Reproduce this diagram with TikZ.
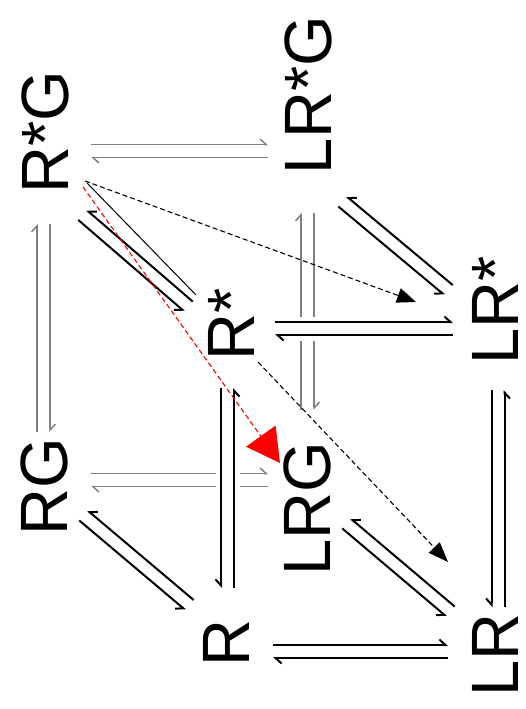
\documentclass[tikz,border=0pt]{standalone}
\usepackage{fontspec}
\setmainfont{Liberation Sans}
\usetikzlibrary{arrows.meta,calc}

% half distance between the two lines of an equilibrium pair
\newcommand{\hgap}{6.5pt}
% [turn] {style} {node a} {shift a} {node b} {shift b}
\newcommand{\eqpair}[6][90]{%
  \pgfmathsetmacro\turn{#1}%
  \pgfmathsetmacro\nturn{-(#1)}%
  \coordinate (p) at ([shift={#4}]#3.center);
  \coordinate (q) at ([shift={#6}]#5.center);
  \draw[#2] ($(p)!\hgap!\turn:(q)$) -- ($(q)!\hgap!\nturn:(p)$);
  \draw[#2] ($(q)!\hgap!\turn:(p)$) -- ($(p)!\hgap!\nturn:(q)$);
}

\begin{document}
\begin{tikzpicture}[x=1pt, y=-1pt,
    lbl/.style={rotate=90, yscale=1.03, inner sep=0pt, font=\fontsize{65}{65}\selectfont},
    back/.style={draw=gray, line width=1.5pt},
    front/.style={draw=black, line width=2pt},
    barb/.style={-{Straight Barb[harpoon, length=6pt, width=11pt]}},
    barbx/.style={-{Straight Barb[harpoon, swap, length=6pt, width=11pt]}},
    gapband/.style={draw=white, line width=24pt},
    dasharrow/.style={black, line width=1.1pt, dash pattern=on 5pt off 3pt},
  ]
  \useasboundingbox (0,0) rectangle (526,709);

  % states
  \node[lbl] (RSG)  at (45,132.5)   {R*G};
  \node[lbl] (LRSG) at (308,95)     {LR*G};
  \node[lbl] (LRS)  at (495.5,310)  {LR*};
  \node[lbl] (RS)   at (231,324)    {R*};
  \node[lbl] (RG)   at (44,486.5)   {RG};
  \node[lbl] (LRG)  at (307.5,508.5) {LRG};
  \node[lbl] (R)    at (226,643)    {R};
  \node[lbl] (LR)   at (495.5,655)  {LR};

  % back face
  \eqpair{back,barb}{RSG}{(46,18.5)}{LRSG}{(-40,56)}
  \eqpair{back,barb}{RG}{(-0.5,-54.5)}{RSG}{(-1.5,91.5)}
  \eqpair{back,barb}{RG}{(47,-6.5)}{LRG}{(-39.5,-28.5)}
  \eqpair{back,barb}{LRG}{(0,-98.5)}{LRSG}{(-0.5,118)}

  % front face, cut through the back lines
  \draw[gapband] ([shift={(44,4.5)}]RS.center) -- ([shift={(-42.5,18.5)}]LRS.center);
  \draw[gapband] ([shift={(-3.5,64)}]RS.center) -- ([shift={(1.5,-55)}]R.center);
  \eqpair{front,barb}{RS}{(44,4.5)}{LRS}{(-42.5,18.5)}
  \eqpair[-90]{front,barbx}{RS}{(-3.5,64)}{R}{(1.5,-55)}
  \eqpair{front,barb}{R}{(47,8.5)}{LR}{(-47.5,-3.5)}
  \eqpair[-90]{front,barbx}{LRS}{(2.5,80)}{LR}{(2.5,-48)}

  % back to front
  \eqpair[-90]{front,barbx}{RSG}{(37.5,82.5)}{RS}{(-42.5,-17.5)}
  \eqpair[-90]{front,barbx}{LRSG}{(34.5,106.5)}{LRS}{(-47,-20)}
  \eqpair[-90]{front,barbx}{RG}{(39.5,29)}{R}{(-36.5,-38)}
  \eqpair[-90]{front,barbx}{LRG}{(39,15)}{LR}{(-45,-43.5)}
  \draw[black, line width=1pt] ([shift={(42,50.5)}]RSG.center) -- ([shift={(-35,-29)}]RS.center);

  % dashed arrows
  \draw[dasharrow, -{Triangle[length=19pt, width=15pt]}]
    ([shift={(40,48.5)}]RSG.center) -- ([shift={(-79.5,-8)}]LRS.center);
  \draw[dasharrow, -{Triangle[length=20pt, width=15pt]}]
    ([shift={(27,38)}]RS.center) -- ([shift={(-47.5,-93)}]LR.center);
  \draw[dasharrow, red, -{Triangle[length=33pt, width=36pt]}]
    ([shift={(38,54.5)}]RSG.center) -- ([shift={(-27.5,-45.5)}]LRG.center);
\end{tikzpicture}
\end{document}
